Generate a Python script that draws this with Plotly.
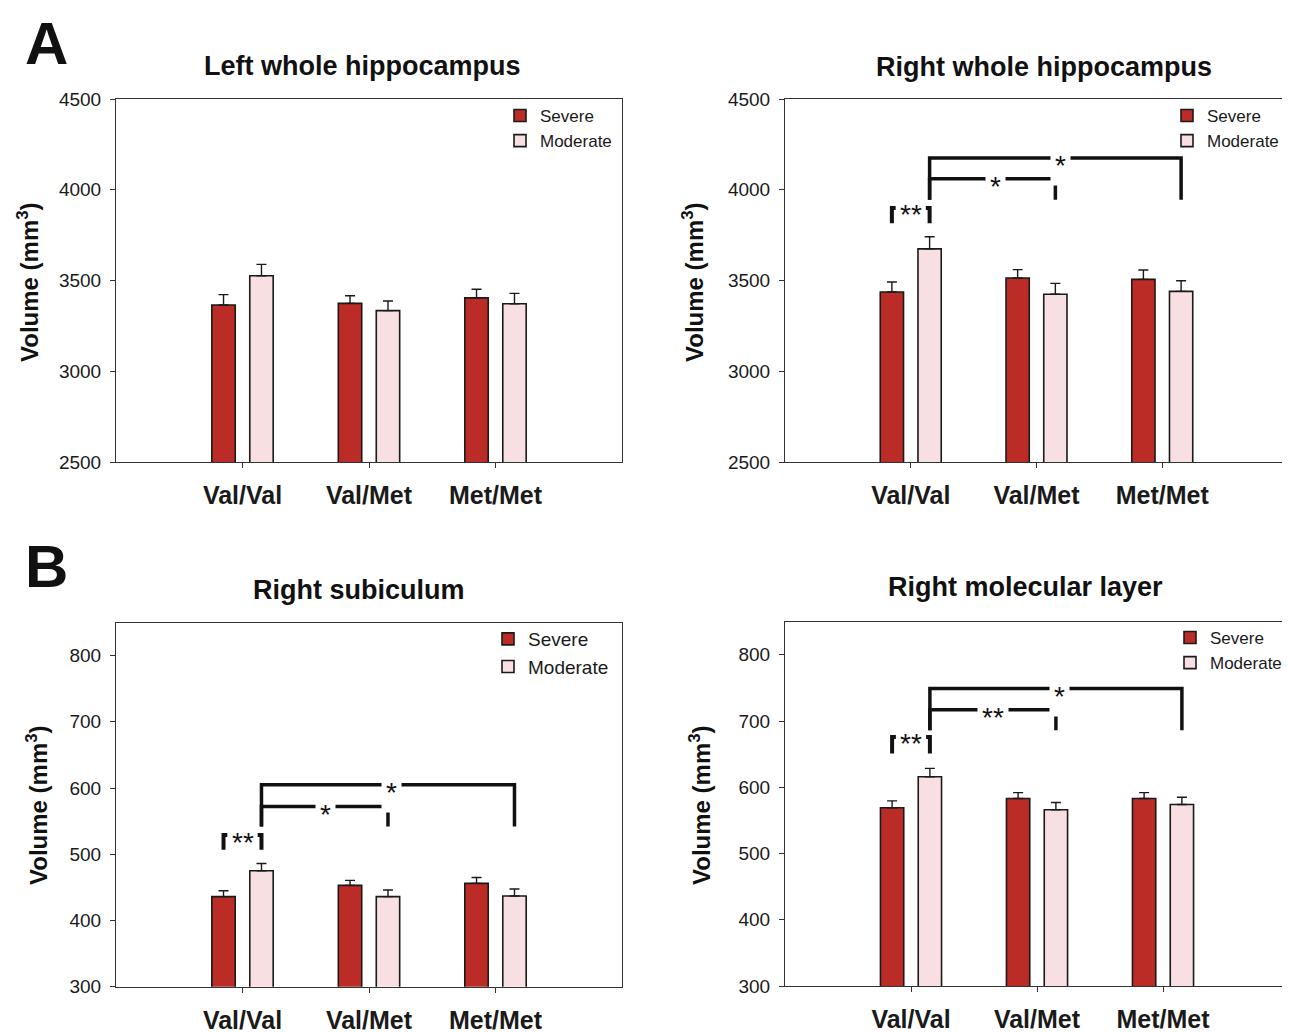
import plotly.graph_objects as go

# ---------------- data ----------------
categories = ["Val/Val", "Val/Met", "Met/Met"]
series_names = ["Severe", "Moderate"]

left_whole_severe = [3365, 3374, 3404]
left_whole_severe_err = [57, 42, 48]
left_whole_moderate = [3526, 3334, 3372]
left_whole_moderate_err = [63, 53, 57]

right_whole_severe = [3437, 3514, 3506]
right_whole_severe_err = [55, 46, 52]
right_whole_moderate = [3674, 3424, 3440]
right_whole_moderate_err = [67, 60, 59]

subiculum_severe = [436, 453, 456]
subiculum_severe_err = [9, 7.5, 9]
subiculum_moderate = [475, 436, 437]
subiculum_moderate_err = [11, 10, 10.5]

molecular_severe = [569, 583, 583]
molecular_severe_err = [10.5, 9, 9]
molecular_moderate = [616, 566, 574]
molecular_moderate_err = [12.5, 11, 11]

panel_titles = ["Left whole hippocampus", "Right whole hippocampus",
                "Right subiculum", "Right molecular layer"]
y_ranges = [[2500, 4500], [2500, 4500], [300, 850], [300, 850]]
y_dticks = [500, 500, 100, 100]

# significance brackets: (category index a, series a) vs (category index b, series b)
right_whole_sig = [
    dict(kind="pair", a=(0, "Severe"), b=(0, "Moderate"), low=3815, high=3900, label="**"),
    dict(kind="span", a=(0, "Moderate"), b=(1, "Moderate"), top=4060, drop=3945, label="*", lx=0.67),
    dict(kind="span", a=(0, "Moderate"), b=(2, "Moderate"), top=4175, drop=3945, label="*", lx=1.19),
]
subiculum_sig = [
    dict(kind="pair", a=(0, "Severe"), b=(0, "Moderate"), low=507, high=529, label="**"),
    dict(kind="span", a=(0, "Moderate"), b=(1, "Moderate"), top=572, drop=542, label="*", lx=0.66),
    dict(kind="span", a=(0, "Moderate"), b=(2, "Moderate"), top=605, drop=542, label="*", lx=1.18),
]
molecular_sig = [
    dict(kind="pair", a=(0, "Severe"), b=(0, "Moderate"), low=651, high=676, label="**"),
    dict(kind="span", a=(0, "Moderate"), b=(1, "Moderate"), top=717, drop=686, label="**", lx=0.65),
    dict(kind="span", a=(0, "Moderate"), b=(2, "Moderate"), top=749, drop=686, label="*", lx=1.18),
]

# ---------------- style ----------------
FONT = "Liberation Sans, Arial, sans-serif"
colors = {"Severe": "#BC2C27", "Moderate": "#F7DFE2"}
BAR_W = 0.185
offsets = {"Severe": -0.15 - BAR_W / 2, "Moderate": 0.15 - BAR_W / 2}
centers = {k: v + BAR_W / 2 for k, v in offsets.items()}

W, H = 1290, 1032
OX, OY = 8, 8  # page body offset of the figure


def fx(px):
    return (px - OX) / W


def fy(py):
    return 1 - (py - OY) / H


# plot areas in page pixels (left, right, top, bottom)
areas = [(116, 622, 99, 462), (785, 1288, 99, 462),
         (116, 622, 622.5, 986.7), (785, 1289, 621.7, 986)]

panels = [
    (left_whole_severe, left_whole_severe_err, left_whole_moderate, left_whole_moderate_err, []),
    (right_whole_severe, right_whole_severe_err, right_whole_moderate, right_whole_moderate_err, right_whole_sig),
    (subiculum_severe, subiculum_severe_err, subiculum_moderate, subiculum_moderate_err, subiculum_sig),
    (molecular_severe, molecular_severe_err, molecular_moderate, molecular_moderate_err, molecular_sig),
]

legend_cfg = [
    dict(text_x=540, top=98, size=17),
    dict(text_x=1207, top=98, size=17),
    dict(text_x=528, top=620, size=19),
    dict(text_x=1210, top=620, size=17),
]

fig = go.Figure()
layout = dict(
    width=W, height=H, margin=dict(l=0, r=0, t=0, b=0, pad=0, autoexpand=False),
    paper_bgcolor="white", plot_bgcolor="white",
    barmode="overlay", showlegend=True,
    font=dict(family=FONT, color="#1a1a1a"),
)
shapes, annotations = [], []

for p, (sev, sev_e, mod, mod_e, sig) in enumerate(panels):
    n = p + 1
    xa = "x" if n == 1 else f"x{n}"
    ya = "y" if n == 1 else f"y{n}"
    lg = "legend" if n == 1 else f"legend{n}"
    l, r, t, b = areas[p]
    for name, vals, errs in (("Severe", sev, sev_e), ("Moderate", mod, mod_e)):
        fig.add_trace(go.Bar(
            x=categories, y=vals, name=name, xaxis=xa, yaxis=ya, legend=lg,
            width=BAR_W, offset=offsets[name],
            marker=dict(color=colors[name], line=dict(color="#1a1a1a", width=1.6)),
            error_y=dict(type="data", array=errs, arrayminus=[0] * len(errs), symmetric=False,
                         color="#1a1a1a", thickness=1.4, width=5),
        ))
    axis_common = dict(showline=True, linecolor="#333333", linewidth=1, mirror=True,
                       ticks="outside", ticklen=5, tickcolor="#333333", showgrid=False,
                       zeroline=False, automargin=False)
    layout[("xaxis" if n == 1 else f"xaxis{n}")] = dict(
        axis_common, domain=[fx(l), min(fx(r), 1)], anchor=ya, range=[-1, 3],
        type="category", categoryorder="array", categoryarray=categories,
        tickfont=dict(size=25, family=FONT, weight="bold", color="#1a1a1a"),
        ticklabelstandoff=6,
    )
    layout[("yaxis" if n == 1 else f"yaxis{n}")] = dict(
        axis_common, domain=[fy(b), fy(t)], anchor=xa, range=y_ranges[p],
        dtick=y_dticks[p], tick0=y_ranges[p][0],
        tickfont=dict(size=19, family=FONT, color="#1a1a1a"), ticklabelstandoff=5,
    )
    lc = legend_cfg[p]
    layout[lg] = dict(
        x=fx(lc["text_x"] - 40), xanchor="left", y=fy(lc["top"]), yanchor="top",
        xref="paper", yref="paper", bgcolor="rgba(0,0,0,0)", borderwidth=0,
        font=dict(size=lc["size"], family=FONT, color="#1a1a1a"),
        traceorder="normal", itemwidth=30, tracegroupgap=0,
    )

    # significance brackets
    xref, yref = xa, ya
    for s in sig:
        xa0 = s["a"][0] + centers[s["a"][1]]
        xb0 = s["b"][0] + centers[s["b"][1]]
        if s["kind"] == "pair":
            stub = 0.03
            lw = 4
            shapes.append(dict(type="path", xref=xref, yref=yref,
                               path=f"M {xa0 + stub},{s['high']} L {xa0},{s['high']} L {xa0},{s['low']}",
                               line=dict(color="#111111", width=lw)))
            shapes.append(dict(type="path", xref=xref, yref=yref,
                               path=f"M {xb0 - stub},{s['high']} L {xb0},{s['high']} L {xb0},{s['low']}",
                               line=dict(color="#111111", width=lw)))
            annotations.append(dict(x=(xa0 + xb0) / 2, y=s["high"], xref=xref, yref=yref,
                                    xanchor="center", yanchor="middle",
                                    text=s["label"], showarrow=False, yshift=-7,
                                    font=dict(size=28, family=FONT, color="#111111")))
        else:
            shapes.append(dict(type="path", xref=xref, yref=yref,
                               path=f"M {xa0},{s['drop']} L {xa0},{s['top']} L {xb0},{s['top']} L {xb0},{s['drop']}",
                               line=dict(color="#111111", width=3.5)))
            annotations.append(dict(x=s["lx"], y=s["top"], xref=xref, yref=yref,
                                    xanchor="center", yanchor="middle",
                                    text=s["label"], showarrow=False, yshift=-8,
                                    bgcolor="white", borderpad=4,
                                    font=dict(size=28, family=FONT, color="#111111")))

# panel titles
title_pos = [(362, 66), (1044, 67), (359, 590), (1025, 587)]
for (tx, ty), txt in zip(title_pos, panel_titles):
    annotations.append(dict(x=fx(tx), y=fy(ty), xref="paper", yref="paper",
                            xanchor="center", yanchor="middle",
                            text=f"<b>{txt}</b>", showarrow=False,
                            font=dict(size=27, family=FONT, color="#111111")))

# y-axis titles
ytitle_pos = [(28, 282), (693, 282), (37, 805), (700, 805)]
for tx, ty in ytitle_pos:
    annotations.append(dict(x=fx(tx), y=fy(ty), xref="paper", yref="paper",
                            xanchor="center", yanchor="middle",
                            text="<b>Volume (mm<sup>3</sup>)</b>", showarrow=False, textangle=-90,
                            font=dict(size=24, family=FONT, color="#111111")))

# panel letters
for (tx, ty), letter in (((46, 44), "A"), ((46, 566), "B")):
    annotations.append(dict(x=fx(tx), y=fy(ty), xref="paper", yref="paper",
                            xanchor="center", yanchor="middle",
                            text=f"<b>{letter}</b>", showarrow=False,
                            font=dict(size=60, family=FONT, color="#111111")))

layout["shapes"] = shapes
layout["annotations"] = annotations
fig.update_layout(**layout)
fig.write_html("out.html")
